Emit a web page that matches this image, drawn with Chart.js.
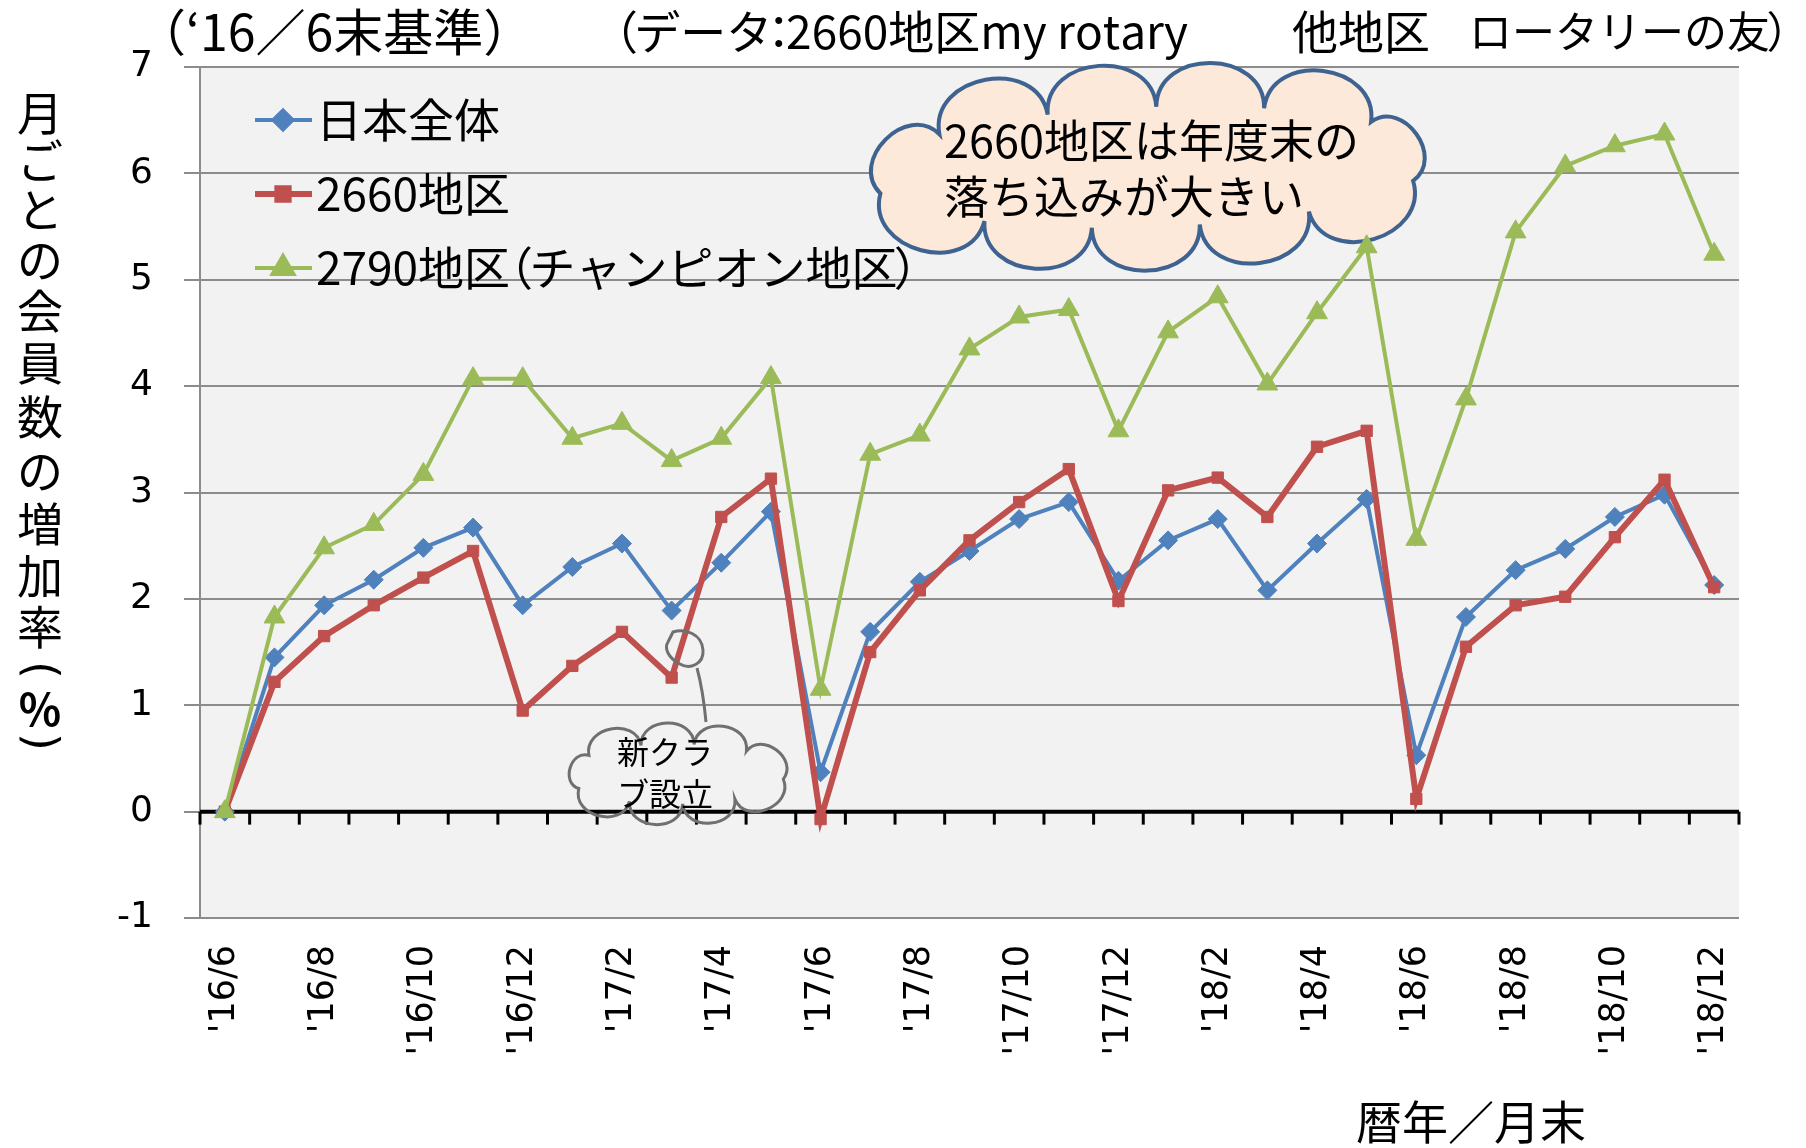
<!DOCTYPE html>
<html><head><meta charset="utf-8">
<script src="https://cdn.jsdelivr.net/npm/chart.js@4/dist/chart.umd.min.js"></script>
<style>html,body{margin:0;padding:0;background:#fff;}</style>
</head><body>
<canvas id="c" width="1806" height="1148"></canvas>
<script>
// ---- data ----
const categories = ["'16/6","'16/7","'16/8","'16/9","'16/10","'16/11","'16/12",
  "'17/1","'17/2","'17/3","'17/4","'17/5","'17/6","'17/7","'17/8","'17/9","'17/10","'17/11","'17/12",
  "'18/1","'18/2","'18/3","'18/4","'18/5","'18/6","'18/7","'18/8","'18/9","'18/10","'18/11","'18/12"];
const japanTotal   = [0, 1.45, 1.94, 2.18, 2.48, 2.67, 1.94, 2.30, 2.52, 1.89, 2.34, 2.82, 0.37, 1.69, 2.16, 2.45, 2.75, 2.91, 2.17, 2.55, 2.75, 2.08, 2.52, 2.94, 0.53, 1.83, 2.27, 2.47, 2.77, 2.98, 2.13];
const district2660 = [0, 1.22, 1.65, 1.94, 2.20, 2.45, 0.95, 1.37, 1.69, 1.26, 2.77, 3.13, -0.07, 1.50, 2.08, 2.55, 2.91, 3.22, 1.98, 3.02, 3.14, 2.77, 3.43, 3.58, 0.12, 1.55, 1.94, 2.02, 2.58, 3.12, 2.11];
const district2790 = [0, 1.83, 2.48, 2.70, 3.17, 4.07, 4.07, 3.51, 3.65, 3.30, 3.51, 4.08, 1.15, 3.36, 3.54, 4.35, 4.65, 4.72, 3.58, 4.51, 4.84, 4.02, 4.69, 5.31, 2.56, 3.88, 5.45, 6.07, 6.26, 6.37, 5.24];
const seriesNames = ['日本全体', '2660地区', '2790地区（チャンピオン地区）'];
const yMin = -1, yMax = 7, yStep = 1;
const headerTexts = ['（‘16／6末基準）', '（データ：2660地区my rotary', '他地区', 'ロータリーの友）'];
const yTitleChars = ['月','ご','と','の','会','員','数','の','増','加','率','(','%',')'];
const xTitle = '暦年／月末';
const bigCloudLines = ['2660地区は年度末の', '落ち込みが大きい'];
const smallCloudLines = ['新クラ', 'ブ設立'];

const JP = '"Noto Sans CJK JP", "Noto Sans", sans-serif';
const colors = ['#4f81bd', '#c0504d', '#9bbb59'];

// draws text with proportional (narrow) full-width brackets / colon
function tightText(ctx, text, x, y, size) {
  let cx = x;
  for (const ch of text) {
    if (ch === '（') { ctx.fillText(ch, cx - 0.5 * size, y); cx += 0.42 * size; }
    else if (ch === '）') { ctx.fillText(ch, cx - 0.08 * size, y); cx += 0.42 * size; }
    else if (ch === '：') { ctx.fillText(ch, cx - 0.36 * size, y); cx += 0.3 * size; }
    else { ctx.fillText(ch, cx, y); cx += ctx.measureText(ch).width; }
  }
}

function cloudPath(ctx, cx, cy, rx, ry, n, bulge, phase, tilt) {
  const M = 720, pts = [], len = [0];
  const ct = Math.cos(tilt || 0), st = Math.sin(tilt || 0);
  for (let i = 0; i <= M; i++) {
    const t = i / M * 2 * Math.PI;
    const ex = rx * Math.cos(t), ey = ry * Math.sin(t);
    pts.push([cx + ex * ct - ey * st, cy + ex * st + ey * ct]);
    if (i > 0) len.push(len[i-1] + Math.hypot(pts[i][0]-pts[i-1][0], pts[i][1]-pts[i-1][1]));
  }
  const total = len[M], nodes = [];
  for (let k = 0; k < n; k++) {
    const target = (((k + phase) / n) * total) % total;
    let i = 0; while (len[i] < target) i++;
    nodes.push(pts[i]);
  }
  ctx.beginPath();
  ctx.moveTo(nodes[0][0], nodes[0][1]);
  for (let k = 0; k < n; k++) {
    const A = nodes[k], B = nodes[(k+1) % n];
    const dx = B[0]-A[0], dy = B[1]-A[1], L = Math.hypot(dx, dy);
    const nx = dy / L, ny = -dx / L, h = bulge * L;
    ctx.bezierCurveTo(A[0]+nx*h, A[1]+ny*h, B[0]+nx*h, B[1]+ny*h, B[0], B[1]);
  }
  ctx.closePath();
}

const decorPlugin = {
  id: 'decor',
  beforeDraw(chart) {
    const {ctx, chartArea: a} = chart;
    ctx.save();
    ctx.fillStyle = '#ffffff';
    ctx.fillRect(0, 0, chart.width, chart.height);
    ctx.fillStyle = '#f2f2f2';
    ctx.fillRect(a.left, a.top, a.right - a.left, a.bottom - a.top);
    ctx.restore();
  },
  beforeDatasetsDraw(chart) {
    const {ctx, chartArea: a, scales: {x, y}} = chart;
    const y0 = y.getPixelForValue(0);
    ctx.save();
    ctx.strokeStyle = '#000';
    ctx.lineWidth = 4;
    ctx.beginPath(); ctx.moveTo(a.left, y0); ctx.lineTo(a.right, y0); ctx.stroke();
    ctx.lineWidth = 3;
    for (let k = 0; k <= categories.length; k++) {
      const px = x.getPixelForValue(k - 0.5);
      ctx.beginPath(); ctx.moveTo(px, y0); ctx.lineTo(px, y0 + 13); ctx.stroke();
    }
    // big cloud (callout)
    cloudPath(ctx, 1151, 167, 283, 60, 11, 0.55, 0.3, -0.035);
    ctx.fillStyle = '#fde9d9';
    ctx.fill();
    ctx.strokeStyle = '#3f6390';
    ctx.lineWidth = 4;
    ctx.stroke();
    ctx.fillStyle = '#000';
    ctx.textBaseline = 'middle';
    ctx.font = '45px ' + JP;
    ctx.textAlign = 'left';
    ctx.fillText(bigCloudLines[0], 944, 141);
    ctx.fillText(bigCloudLines[1], 944, 197);
    ctx.restore();
  },
  afterDraw(chart) {
    const {ctx} = chart;
    ctx.save();
    ctx.fillStyle = '#000';
    ctx.textBaseline = 'middle';
    ctx.textAlign = 'left';
    // header
    ctx.font = '50px ' + JP;
    ctx.fillText(headerTexts[0], 136, 32);
    ctx.font = '46px ' + JP;
    tightText(ctx, headerTexts[1], 615, 32, 46);
    tightText(ctx, headerTexts[2], 1292, 32, 46);
    ctx.font = '43px ' + JP;
    tightText(ctx, headerTexts[3], 1469, 32, 43);
    // x title
    ctx.font = '46px ' + JP;
    ctx.textAlign = 'center';
    ctx.fillText(xTitle, 1471, 1122);
    // y title (vertical, upright)
    const yc = [113,161,210,260,311,363,417,471,524,576,627,670,709,742];
    yTitleChars.forEach((ch, i) => {
      if (ch === '(' || ch === ')') {
        ctx.save();
        ctx.translate(40, yc[i]);
        ctx.rotate(Math.PI / 2);
        ctx.font = '46px "DejaVu Sans", sans-serif';
        ctx.fillText(ch, 0, 2);
        ctx.restore();
      } else if (ch === '%') {
        ctx.font = 'bold 44px ' + JP;
        ctx.fillText(ch, 40, yc[i]);
      } else {
        ctx.font = '46px ' + JP;
        ctx.fillText(ch, 40, yc[i]);
      }
    });
    // legend
    const ly = [120, 194, 268];
    [0, 1, 2].forEach(i => {
      const ds = chart.data.datasets[i];
      ctx.strokeStyle = colors[i];
      ctx.lineWidth = ds.borderWidth;
      ctx.beginPath(); ctx.moveTo(255, ly[i]); ctx.lineTo(312, ly[i]); ctx.stroke();
      ctx.fillStyle = colors[i];
      Chart.helpers.drawPoint(ctx, {pointStyle: ds.pointStyle, radius: ds.pointRadius, rotation: 0, borderWidth: 1}, 283, ly[i]);
      ctx.fill();
      ctx.fillStyle = '#000';
      ctx.font = '46px ' + JP;
      ctx.textAlign = 'left';
      tightText(ctx, seriesNames[i], 316, ly[i], 46);
    });
    // small cloud with tail
    ctx.strokeStyle = '#707070';
    ctx.lineWidth = 3;
    cloudPath(ctx, 675, 774, 110, 30, 9, 0.55, 0.1, 0);
    ctx.stroke();
    ctx.beginPath();
    ctx.moveTo(706, 722);
    ctx.quadraticCurveTo(703, 690, 697, 668);
    ctx.stroke();
    ctx.beginPath();
    ctx.moveTo(673, 632);
    ctx.bezierCurveTo(685, 628, 702, 634, 703, 650);
    ctx.bezierCurveTo(704, 664, 690, 670, 680, 664);
    ctx.bezierCurveTo(668, 658, 664, 648, 668, 642);
    ctx.closePath();
    ctx.stroke();
    ctx.fillStyle = '#000';
    ctx.font = '32px ' + JP;
    ctx.textAlign = 'center';
    ctx.fillText(smallCloudLines[0], 665, 752);
    ctx.fillText(smallCloudLines[1], 665, 794);
    ctx.restore();
  }
};

const ctx = document.getElementById('c').getContext('2d');
new Chart(ctx, {
  type: 'line',
  data: {
    labels: categories,
    datasets: [
      {label: seriesNames[0], data: japanTotal, borderColor: colors[0], backgroundColor: colors[0],
       borderWidth: 4, pointStyle: 'rectRot', pointRadius: 9.5, pointBackgroundColor: colors[0],
       pointBorderColor: colors[0], pointBorderWidth: 1, order: 2, tension: 0},
      {label: seriesNames[1], data: district2660, borderColor: colors[1], backgroundColor: colors[1],
       borderWidth: 6, pointStyle: 'rect', pointRadius: 8, pointBackgroundColor: colors[1],
       pointBorderColor: colors[1], pointBorderWidth: 1, order: 1, tension: 0},
      {label: seriesNames[2], data: district2790, borderColor: colors[2], backgroundColor: colors[2],
       borderWidth: 4, pointStyle: 'triangle', pointRadius: 12, pointBackgroundColor: colors[2],
       pointBorderColor: colors[2], pointBorderWidth: 1, order: 0, tension: 0}
    ]
  },
  options: {
    responsive: false, animation: false, devicePixelRatio: 1,
    layout: {padding: {top: 67, right: 67, left: 0, bottom: 0}},
    plugins: {legend: {display: false}, tooltip: {enabled: false}, title: {display: false}},
    scales: {
      x: {
        type: 'category', offset: true,
        grid: {display: false, drawTicks: false}, border: {display: false},
        ticks: {autoSkip: false, minRotation: 90, maxRotation: 90, padding: 27, color: '#000',
                font: {family: 'DejaVu Sans', size: 35},
                callback: (v, i) => (i % 2 === 0 ? categories[i] : '')},
        afterFit: s => { s.height = 230; }
      },
      y: {
        min: yMin, max: yMax,
        ticks: {stepSize: yStep, color: '#000', font: {family: 'DejaVu Sans', size: 36}, padding: 31},
        grid: {color: '#8c8c8c', lineWidth: 2, tickLength: 16, drawTicks: true},
        border: {color: '#8c8c8c', width: 2},
        afterFit: s => { s.width = 200; }
      }
    }
  },
  plugins: [decorPlugin]
});
</script>
</body></html>
